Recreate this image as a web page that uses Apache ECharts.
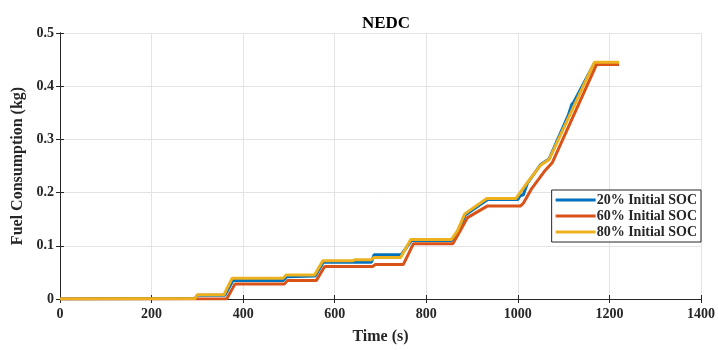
<!DOCTYPE html>
<html>
<head>
<meta charset="utf-8">
<script src="https://cdn.jsdelivr.net/npm/echarts@6/dist/echarts.min.js"></script>
<style>html,body{margin:0;padding:0;background:#fff;}#c{width:718px;height:350px;}</style>
</head>
<body>
<div id="c"></div>
<script>
const seriesNames = ['20% Initial SOC', '60% Initial SOC', '80% Initial SOC'];
const xTicks = [0, 200, 400, 600, 800, 1000, 1200, 1400];
const yTicks = [0, 0.1, 0.2, 0.3, 0.4, 0.5];

const timeSoc20 = [0,295,300,360,378,488,495,557,575,680,686,745,768,855,870,885,934,1000,1005,1012,1021,1050,1068,1110,1118,1122,1126,1167,1221];
const fuelSoc20 = [0,0.001,0.007,0.007,0.035,0.035,0.042,0.043,0.069,0.069,0.083,0.083,0.110,0.110,0.125,0.158,0.187,0.187,0.194,0.196,0.218,0.253,0.263,0.345,0.366,0.370,0.368,0.443,0.443];

const timeSoc60 = [0,364,382,490,497,560,578,683,689,750,772,858,872,890,934,1006,1012,1029,1058,1075,1172,1221];
const fuelSoc60 = [0,0,0.028,0.028,0.035,0.035,0.061,0.061,0.065,0.065,0.104,0.104,0.125,0.153,0.175,0.175,0.180,0.206,0.240,0.256,0.441,0.441];

const timeSoc80 = [0,295,300,358,376,487,494,556,574,640,645,680,686,744,766,855,868,884,932,996,1021,1050,1068,1167,1221];
const fuelSoc80 = [0,0.001,0.008,0.008,0.039,0.039,0.045,0.045,0.072,0.072,0.074,0.074,0.078,0.078,0.112,0.112,0.128,0.160,0.189,0.189,0.219,0.252,0.262,0.445,0.445];

const colors = ['#0072BD', '#D95319', '#EDB120'];
const font = 'Liberation Serif';

function pairs(t, v) { return t.map((x, i) => [x, v[i]]); }

const chart = echarts.init(document.getElementById('c'), null, {renderer: 'canvas'});
const axisCommon = {
  axisLine: {show: true, lineStyle: {color: '#262626', width: 1}},
  axisTick: {show: true, inside: true, length: 4, lineStyle: {color: '#262626'}},
};
chart.setOption({
  animation: false,
  backgroundColor: '#fff',
  title: {
    text: 'NEDC', left: 381, top: 10, textAlign: 'center',
    textStyle: {fontFamily: font, fontWeight: 'bold', fontSize: 17, color: '#000'}
  },
  grid: {left: 60, right: 16, top: 33, bottom: 47},
  legend: {
    data: seriesNames, orient: 'vertical', right: 17, top: 190,
    itemWidth: 40, itemHeight: 3, itemGap: 2, icon: 'rect',
    backgroundColor: '#fff', borderColor: '#262626', borderWidth: 1,
    padding: [3, 4, 3, 4],
    textStyle: {fontFamily: font, fontWeight: 'bold', fontSize: 14, color: '#262626', padding: [0,0,0,-4]}
  },
  xAxis: [
    Object.assign({
      type: 'value', min: xTicks[0], max: xTicks[xTicks.length-1], interval: 200,
      name: 'Time (s)', nameLocation: 'middle', nameGap: 30,
      nameTextStyle: {fontFamily: font, fontWeight: 'bold', fontSize: 16, color: '#262626'},
      axisLabel: {fontFamily: font, fontWeight: 'bold', fontSize: 14, color: '#262626', margin: 8,
        formatter: v => String(v)},
      splitLine: {show: true, lineStyle: {color: '#e3e3e3'}}
    }, axisCommon),
    Object.assign({
      type: 'value', position: 'top', min: 0, max: 1400, interval: 200,
      axisLabel: {show: false}, splitLine: {show: false}
    }, axisCommon)
  ],
  yAxis: [
    Object.assign({
      type: 'value', min: yTicks[0], max: yTicks[yTicks.length-1], interval: 0.1,
      name: 'Fuel Consumption (kg)', nameLocation: 'middle', nameGap: 33,
      nameTextStyle: {fontFamily: font, fontWeight: 'bold', fontSize: 16, color: '#262626'},
      axisLabel: {fontFamily: font, fontWeight: 'bold', fontSize: 14, color: '#262626', margin: 6},
      splitLine: {show: true, lineStyle: {color: '#e3e3e3'}}
    }, axisCommon),
    Object.assign({
      type: 'value', position: 'right', min: 0, max: 0.5, interval: 0.1,
      axisLabel: {show: false}, splitLine: {show: false}
    }, axisCommon)
  ],
  series: [
    {name: seriesNames[0], type: 'line', data: pairs(timeSoc20, fuelSoc20)},
    {name: seriesNames[1], type: 'line', data: pairs(timeSoc60, fuelSoc60)},
    {name: seriesNames[2], type: 'line', data: pairs(timeSoc80, fuelSoc80)}
  ].map((s, i) => Object.assign(s, {
    xAxisIndex: 0, yAxisIndex: 0, showSymbol: false, symbol: 'none',
    color: colors[i], lineStyle: {width: 3, color: colors[i]}
  }))
});
</script>
</body>
</html>
